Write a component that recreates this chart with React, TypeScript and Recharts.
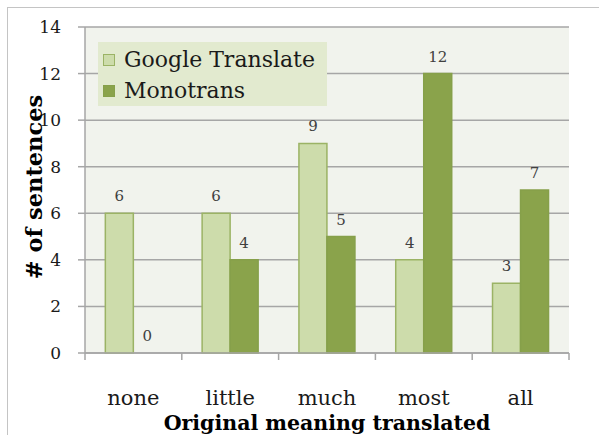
import React from "react";
import {
	BarChart,
	Bar,
	XAxis,
	YAxis,
	CartesianGrid,
	Legend,
	LabelList,
	Label,
	Rectangle,
} from "recharts";

const categories = ["none", "little", "much", "most", "all"];
const googleTranslate = [6, 6, 9, 4, 3];
const monotrans = [0, 4, 5, 12, 7];
const yTicks = [0, 2, 4, 6, 8, 10, 12, 14];

const data = categories.map((c, i) => ({
	category: c,
	google: googleTranslate[i],
	mono: monotrans[i],
}));

const FONT = "'DejaVu Serif', 'Liberation Serif', serif";
const AXIS = "#a6a6a6";

const XTick = (props: any) => {
	const { x, y, payload, index, visibleTicksCount } = props;
	const off = payload?.offset ?? 48.4;
	const last = index === (visibleTicksCount ?? categories.length) - 1;
	return (
		<g>
			<line x1={x - off} y1={y} x2={x - off} y2={y + 7} stroke={AXIS} strokeWidth={1.5} />
			{last && <line x1={x + off} y1={y} x2={x + off} y2={y + 7} stroke={AXIS} strokeWidth={1.5} />}
			<text x={x} y={y + 52} textAnchor="middle" fontFamily={FONT} fontSize={21} fill="#1a1a1a">
				{payload.value}
			</text>
		</g>
	);
};

// zero-valued bars get a tiny min size so their label is kept, but no rectangle is drawn
const BarShape = (key: string) => (p: any) =>
	p.payload && p.payload[key] === 0 ? <g /> : <Rectangle {...p} />;

const LegendBox = (props: any) => {
	const items = props.payload || [];
	return (
		<div style={{ background: "#e2eacf", width: 229, height: 64, boxSizing: "border-box", padding: "2px 0 0 5px" }}>
			{items.map((it: any) => (
				<div key={it.value} style={{ display: "flex", alignItems: "center", height: 31 }}>
					<span
						style={{
							display: "inline-block",
							width: 10,
							height: 10,
							background: it.color,
							border: `1.5px solid ${it.payload?.stroke ?? "#8aa34b"}`,
							marginRight: 9,
						}}
					/>
					<span style={{ fontFamily: FONT, fontSize: 22, color: "#1a1a1a", lineHeight: "31px" }}>{it.value}</span>
				</div>
			))}
		</div>
	);
};

const App = () => {
	return (
		<div style={{ position: "absolute", left: 0, top: 0, width: 599, height: 435, overflow: "hidden", background: "#fff" }}>
			<div
				style={{
					position: "absolute",
					left: 7,
					top: 7,
					width: 700,
					height: 600,
					borderTop: "1.5px solid #c4c4c4",
					borderLeft: "1.5px solid #c4c4c4",
				}}
			/>
			<BarChart
				width={599}
				height={435}
				data={data}
				margin={{ top: 27, right: 30, bottom: 0, left: 0 }}
				barCategoryGap="21%"
				barGap={0}
				style={{ position: "absolute", left: 0, top: 0 }}
			>
				<CartesianGrid vertical={false} stroke={AXIS} strokeWidth={1.5} fill="#f1f3ed" />
				<XAxis
					dataKey="category"
					height={82}
					tickLine={false}
					tickSize={0}
					tickMargin={0}
					interval={0}
					axisLine={{ stroke: AXIS, strokeWidth: 1.5 }}
					tick={<XTick />}
				>
					<Label
						value="Original meaning translated"
						position="insideBottom"
						offset={5}
						style={{ fontFamily: FONT, fontSize: 20.5, fontWeight: "bold", fill: "#000" }}
					/>
				</XAxis>
				<YAxis
					width={85}
					domain={[0, 14]}
					ticks={yTicks}
					interval={0}
					tickSize={7}
					tickMargin={17}
					axisLine={{ stroke: AXIS, strokeWidth: 1.5 }}
					tickLine={{ stroke: AXIS, strokeWidth: 1.5 }}
					tick={{ fontFamily: FONT, fontSize: 17, fill: "#1a1a1a" }}
				>
					<Label
						value="# of sentences"
						angle={-90}
						position="center"
						dx={-8}
						dy={-3}
						style={{ fontFamily: FONT, fontSize: 22.5, fontWeight: "bold", fill: "#000", textAnchor: "middle" }}
					/>
				</YAxis>
				<Legend
					layout="horizontal"
					verticalAlign="middle"
					align="center"
					content={<LegendBox />}
					wrapperStyle={{ position: "absolute", left: 98, top: 42, width: 229, height: 64 }}
				/>
				<Bar
					dataKey="google"
					name="Google Translate"
					fill="#cddcab"
					stroke="#9bb365"
					strokeWidth={1.5}
					minPointSize={0.01}
					shape={BarShape("google")}
					isAnimationActive={false}
				>
					<LabelList dataKey="google" position="top" offset={12} style={{ fontFamily: FONT, fontSize: 15, fill: "#404040" }} />
				</Bar>
				<Bar
					dataKey="mono"
					name="Monotrans"
					fill="#8aa34b"
					stroke="#86a04a"
					strokeWidth={1.5}
					minPointSize={0.01}
					shape={BarShape("mono")}
					isAnimationActive={false}
				>
					<LabelList dataKey="mono" position="top" offset={12} style={{ fontFamily: FONT, fontSize: 15, fill: "#404040" }} />
				</Bar>
			</BarChart>
		</div>
	);
};

export default App;
